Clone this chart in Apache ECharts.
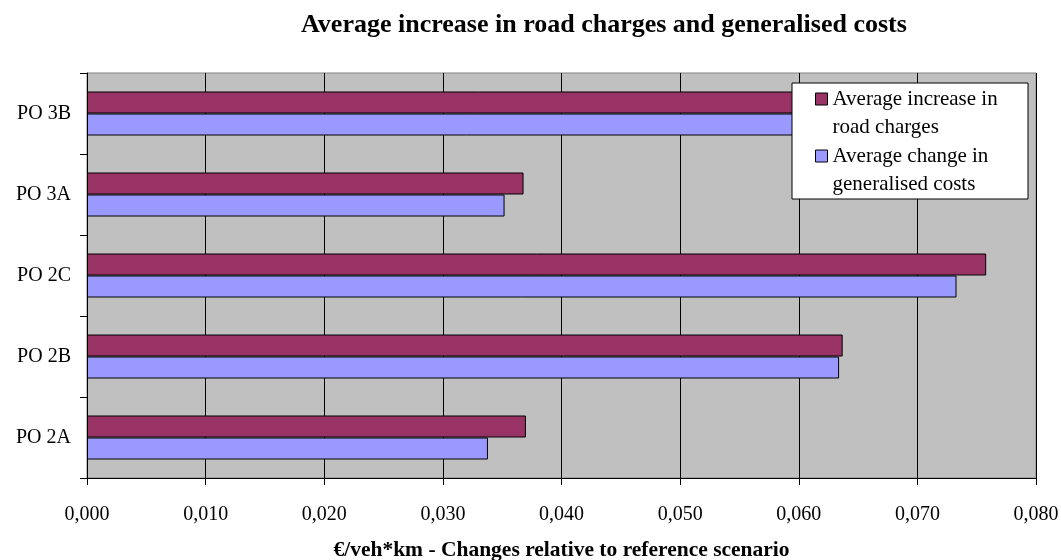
<!DOCTYPE html>
<html>
<head>
<meta charset="utf-8">
<script src="https://cdn.jsdelivr.net/npm/echarts@6/dist/echarts.min.js"></script>
<style>
html,body{margin:0;padding:0;background:#fff;}
#chart{width:1061px;height:560px;}
</style>
</head>
<body>
<div id="chart"></div>
<script>
const categories = ['PO 2A', 'PO 2B', 'PO 2C', 'PO 3A', 'PO 3B'];
const roadCharges = [0.0370, 0.0637, 0.0758, 0.0368, 0.0660];
const generalisedCosts = [0.0338, 0.0634, 0.0733, 0.0352, 0.0640];
const seriesNames = ['Average increase in\nroad charges', 'Average change in\ngeneralised costs'];
const xTicks = { min: 0, max: 0.08, interval: 0.01 };

const FONT = '"Liberation Serif", "Times New Roman", serif';
const chart = echarts.init(document.getElementById('chart'), null, { renderer: 'canvas' });
chart.setOption({
  animation: false,
  backgroundColor: '#ffffff',
  title: {
    text: 'Average increase in road charges and generalised costs',
    left: 301, top: 12, padding: 0,
    textStyle: { fontFamily: FONT, fontSize: 26, fontWeight: 'bold', color: '#000' }
  },
  grid: {
    left: 87, right: 25, top: 73, bottom: 82,
    containLabel: false, outerBoundsMode: 'none',
    show: true, backgroundColor: '#C0C0C0', borderColor: '#808080', borderWidth: 1
  },
  xAxis: {
    type: 'value', min: xTicks.min, max: xTicks.max, interval: xTicks.interval,
    name: '\u20ac/veh*km - Changes relative to reference scenario',
    nameLocation: 'middle', nameGap: 61,
    nameTextStyle: { fontFamily: FONT, fontSize: 21.5, fontWeight: 'bold', color: '#000' },
    axisLine: { show: true, lineStyle: { color: '#000', width: 1 } },
    axisTick: { show: true, length: 7, lineStyle: { color: '#000' } },
    axisLabel: {
      margin: 27, color: '#000', fontFamily: FONT, fontSize: 20,
      formatter: v => v.toFixed(3).replace('.', ',')
    },
    splitLine: { show: true, lineStyle: { color: '#000', width: 1 } }
  },
  yAxis: {
    type: 'category', data: categories,
    axisLine: { show: true, lineStyle: { color: '#000', width: 1 } },
    axisTick: { show: true, length: 7, lineStyle: { color: '#000' } },
    axisLabel: { margin: 16, color: '#000', fontFamily: FONT, fontSize: 20 },
    splitLine: { show: false }
  },
  legend: {
    data: seriesNames,
    formatter: name => '\n' + name,
    orient: 'vertical', left: 815, top: 57, padding: 0,
    itemWidth: 12, itemHeight: 12, itemGap: -27, icon: 'rect',
    itemStyle: { borderColor: '#000', borderWidth: 1 },
    textStyle: { fontFamily: FONT, fontSize: 21, color: '#000', lineHeight: 28 },
    selectedMode: false, z: 10
  },
  graphic: [{
    type: 'rect', z: 5,
    shape: { x: 792, y: 83, width: 236, height: 116 },
    style: { fill: '#ffffff', stroke: '#000', lineWidth: 1 }
  }],
  series: [
    {
      name: seriesNames[0], type: 'bar', data: roadCharges,
      barWidth: 22, barGap: '0%',
      itemStyle: { color: '#993366', borderColor: '#000', borderWidth: 1 }
    },
    {
      name: seriesNames[1], type: 'bar', data: generalisedCosts,
      barWidth: 22, barGap: '0%',
      itemStyle: { color: '#9999FF', borderColor: '#000', borderWidth: 1 }
    }
  ]
});
</script>
</body>
</html>
